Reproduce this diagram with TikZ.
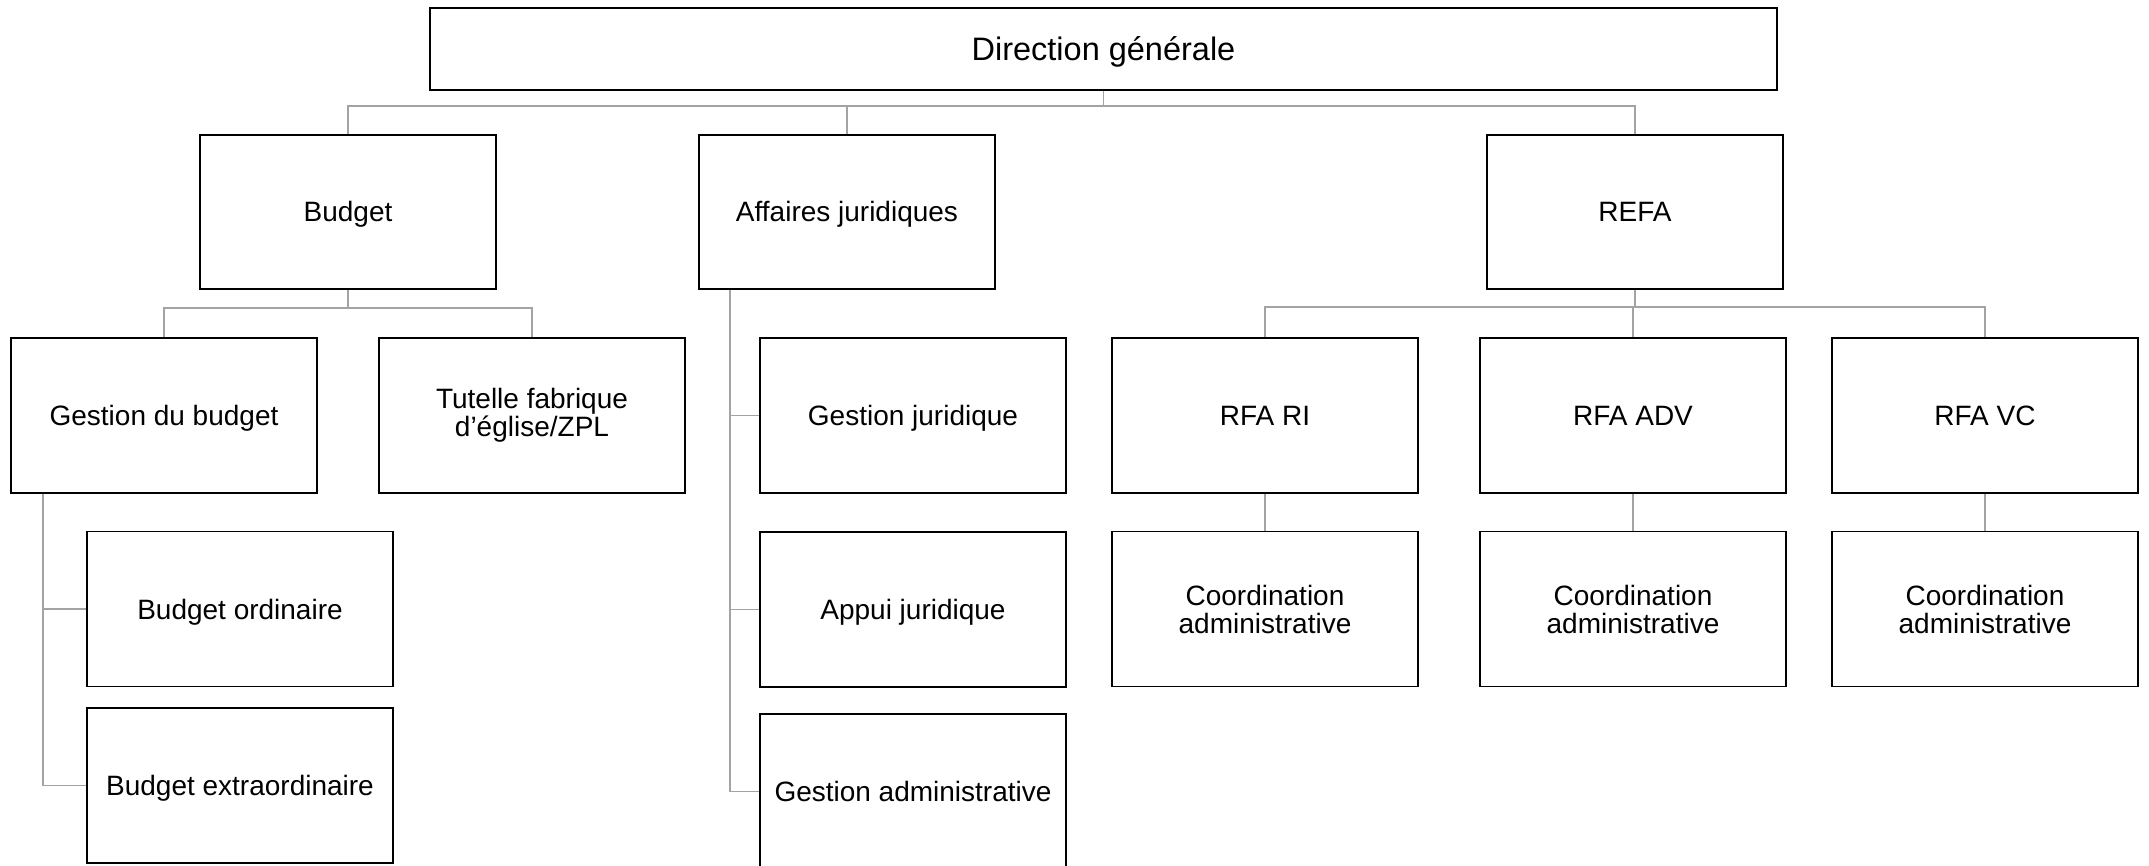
\documentclass[tikz,border=0pt]{standalone}
\usepackage{fontspec}
\setmainfont{Liberation Sans}
\usetikzlibrary{positioning}

\tikzset{
  box/.style={draw=black, line width=0.9pt, fill=white, align=center, inner sep=2pt,
    minimum width=153pt, minimum height=77.5pt, font=\fontsize{14}{14}\selectfont,
    text height=10pt, text depth=0pt},
  twoline/.style={text height=, text depth=},
  headbox/.style={box, minimum width=148pt, minimum height=77pt},
  link/.style={draw=gray!72, line width=0.9pt}
}

\begin{document}
\begin{tikzpicture}[x=0.5pt,y=-0.5pt]
\useasboundingbox (0,0) rectangle (2149,866);
\coordinate (bus1) at (0,106);
\coordinate (bus2) at (0,308);
\coordinate (bus3) at (0,307);

\node[box, minimum width=673.5pt, minimum height=41pt, text height=11.6pt, font=\fontsize{16.25}{16.25}\selectfont] (dg) at (1103.5,49) {Direction générale};

\node[headbox] (budget) at (348,212) {Budget};
\node[headbox] (aff) at (847,212) {Affaires juridiques};
\node[headbox] (refa) at (1635,212) {REFA};

\node[box] (gdb) at (164,415.5) {Gestion du budget};
\node[box, twoline] (tut) at (532,415.5) {Tutelle fabrique\\d’église/ZPL};
\node[box] (bo) at (240,609) {Budget ordinaire};
\node[box] (be) at (240,785.5) {Budget extraordinaire};

\node[box] (gj) at (913,415.5) {Gestion juridique};
\node[box] (aj) at (913,609.5) {Appui juridique};
\node[box] (ga) at (913,791.5) {Gestion administrative};

\node[box] (rri) at (1265,415.5) {RFA RI};
\node[box] (radv) at (1633,415.5) {RFA ADV};
\node[box] (rvc) at (1985,415.5) {RFA VC};
\foreach \r/\c in {rri/cri,radv/cadv,rvc/cvc}{
  \node[box, twoline] (\c) at (\r |- 0,609) {Coordination\\administrative};
  \draw[link] (\r.south) -- (\c.north);
}

\draw[link] (dg.south) -- (dg.south |- bus1);
\draw[link] (budget.north) -- (budget.north |- bus1) -| (refa.north);
\draw[link] (aff.north) -- (aff.north |- bus1);

\draw[link] (budget.south) -- (budget.south |- bus2);
\draw[link] (gdb.north) -- (gdb.north |- bus2) -| (tut.north);
\coordinate (gdbtrunk) at ([xshift=16.5pt]gdb.south west);
\draw[link] (gdbtrunk) |- (be.west);
\draw[link] (bo.west) -- (bo.west -| gdbtrunk);

\coordinate (afftrunk) at ([xshift=16pt]aff.south west);
\draw[link] (afftrunk) |- (ga.west);
\foreach \n in {gj,aj}{
  \draw[link] (\n.west) -- (\n.west -| afftrunk);
}

\draw[link] (refa.south) -- (refa.south |- bus3);
\draw[link] (rri.north) -- (rri.north |- bus3) -| (rvc.north);
\draw[link] (radv.north) -- (radv.north |- bus3);
\end{tikzpicture}
\end{document}
